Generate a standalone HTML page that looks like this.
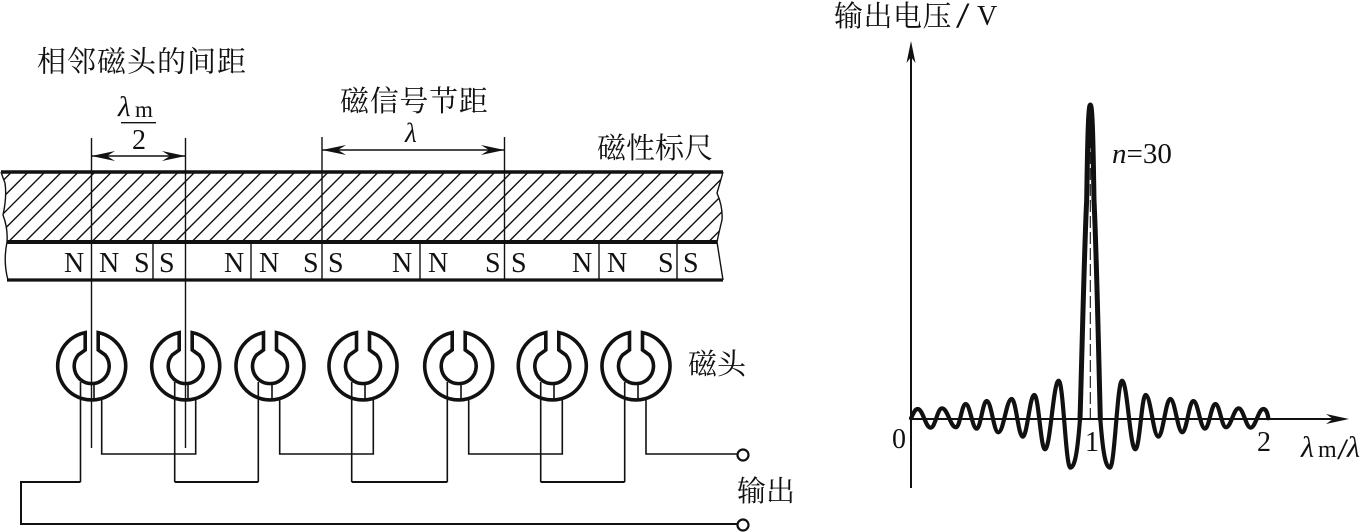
<!DOCTYPE html>
<html>
<head>
<meta charset="utf-8">
<style>
html,body{margin:0;padding:0;background:#fff;width:1363px;height:532px;overflow:hidden}
svg{display:block}
.cjk{font-family:"Liberation Serif","Noto Serif CJK SC",serif;font-size:29px;fill:#111}
.l{font-family:"Liberation Serif",serif;font-size:28px;fill:#111}
.i{font-style:italic}
.w{fill:none;stroke:#111;stroke-width:1.6}
.t{fill:none;stroke:#111;stroke-width:1.4}
</style>
</head>
<body>
<svg width="1363" height="532" viewBox="0 0 1363 532" xmlns="http://www.w3.org/2000/svg">
<defs>
<clipPath id="c"><path d="M1,172L723,172Q720,183 717,193Q723,207 722,220Q719,232 717,242L7,242Q8,228 3,215Q7,197 5,183Q3,178 1,172Z"/></clipPath>
<path id="head" d="M-6.5,-33.4A34,34 0 1 0 6.5,-33.4L6.5,-16L13.5,-11A17.5,17.5 0 1 1 -13.5,-11L-6.5,-16Z" fill="none" stroke="#111" stroke-width="3.6"/>
</defs>

<!-- ruler -->
<path clip-path="url(#c)" class="t" d="M11.6,172l-70,70m86.67,-70l-70,70m86.67,-70l-70,70m86.67,-70l-70,70m86.67,-70l-70,70m86.67,-70l-70,70m86.67,-70l-70,70m86.67,-70l-70,70m86.67,-70l-70,70m86.67,-70l-70,70m86.67,-70l-70,70m86.67,-70l-70,70m86.67,-70l-70,70m86.67,-70l-70,70m86.67,-70l-70,70m86.67,-70l-70,70m86.67,-70l-70,70m86.67,-70l-70,70m86.67,-70l-70,70m86.67,-70l-70,70m86.67,-70l-70,70m86.67,-70l-70,70m86.67,-70l-70,70m86.67,-70l-70,70m86.67,-70l-70,70m86.67,-70l-70,70m86.67,-70l-70,70m86.67,-70l-70,70m86.67,-70l-70,70m86.67,-70l-70,70m86.67,-70l-70,70m86.67,-70l-70,70m86.67,-70l-70,70m86.67,-70l-70,70m86.67,-70l-70,70m86.67,-70l-70,70m86.67,-70l-70,70m86.67,-70l-70,70m86.67,-70l-70,70m86.67,-70l-70,70m86.67,-70l-70,70m86.67,-70l-70,70m86.67,-70l-70,70m86.67,-70l-70,70m86.67,-70l-70,70m86.67,-70l-70,70m86.67,-70l-70,70"/>
<path d="M1,172Q3,178 5,183Q7,197 3,215Q8,228 7,242Q3,262 8,280" class="t"/>
<path d="M723,172Q720,183 717,193Q723,207 722,220Q719,232 717,242L723,280" class="t"/>
<path d="M1,172H723" stroke="#111" stroke-width="3.4" fill="none"/>
<path d="M7,242H717" stroke="#111" stroke-width="4" fill="none"/>
<path d="M7,280H723" stroke="#111" stroke-width="3.2" fill="none"/>

<!-- verticals -->
<path d="M91.5,138V448M185.5,138V448M322,137V280M504.5,137V280" class="t"/>
<path d="M153,242V280M251,242V280M420,242V280M599,242V280M677,242V280" class="t"/>

<!-- poles -->
<g class="l">
<text x="64" y="272">N</text><text x="99" y="272">N</text><text x="134" y="272">S</text><text x="159" y="272">S</text>
<text x="224" y="272">N</text><text x="259" y="272">N</text><text x="303" y="272">S</text><text x="328" y="272">S</text>
<text x="392" y="272">N</text><text x="428" y="272">N</text><text x="485" y="272">S</text><text x="511" y="272">S</text>
<text x="572" y="272">N</text><text x="607" y="272">N</text><text x="658" y="272">S</text><text x="683" y="272">S</text>
</g>

<!-- dimensions -->
<path d="M91,156H185M322,150H504" class="t"/>
<path d="M91.5,156L115,151L107,156L115,161ZM185.5,156L162,151L170,156L162,161Z" fill="#111"/>
<path d="M322,150L346,145L338,150L346,155ZM504.5,150L481,145L489,150L481,155Z" fill="#111"/>
<path d="M121,122.7H156" class="t"/>

<!-- labels -->
<text class="cjk" x="37" y="71.5" style="letter-spacing:1px">相邻磁头的间距</text>
<text class="cjk" x="340" y="111" style="letter-spacing:.7px">磁信号节距</text>
<text class="cjk" x="597" y="158">磁性标尺</text>
<text class="cjk" x="688" y="374">磁头</text>
<text class="cjk" x="737" y="501">输出</text>
<text class="cjk" x="834" y="26" style="letter-spacing:.5px">输出电压</text>
<text class="l" transform="translate(956,27) scale(1.35,1)" style="font-size:36px">/</text>
<text class="l" x="977" y="25">V</text>

<text class="l i" x="118" y="116" style="font-size:29px">λ</text>
<text class="l" x="135" y="117" style="font-size:23px">m</text>
<text class="l" x="132" y="149">2</text>
<text class="l i" x="405" y="142" style="font-size:27px">λ</text>

<!-- heads -->
<use href="#head" x="91.7" y="366"/>
<use href="#head" x="185.7" y="366"/>
<use href="#head" x="270" y="366"/>
<use href="#head" x="363" y="366"/>
<use href="#head" x="458.7" y="366"/>
<use href="#head" x="552.3" y="366"/>
<use href="#head" x="636" y="366"/>

<!-- wires -->
<path class="w" d="M94,382V399M188,382V399M272,382V399M365,382V399M461,382V399M554,382V399M638,382V399"/>
<path class="w" d="M101.7,399V454H195.7V399"/>
<path class="w" d="M279.7,399V454H373.3V399"/>
<path class="w" d="M468.7,399V454H562.3V399"/>
<path class="w" d="M646,399V454H737"/>
<path class="w" d="M80.5,382V482"/>
<path class="w" d="M174.7,382V482M258.3,382V482M351.7,382V482M447.3,382V482M540.7,382V482M624.7,382V482"/>
<path d="M80.5,482H21V524H737" fill="none" stroke="#111" stroke-width="2"/>
<path d="M174.7,482H258.3M351.7,482H447.3M540.7,482H624.7" fill="none" stroke="#111" stroke-width="2"/>
<circle cx="743" cy="455" r="5.5" fill="#fff" stroke="#111" stroke-width="2.2"/>
<circle cx="743" cy="525" r="5.5" fill="#fff" stroke="#111" stroke-width="2.2"/>

<!-- chart axes -->
<path d="M911,55V488" fill="none" stroke="#111" stroke-width="2"/>
<path d="M911,41L915.5,63L911,57L906.5,63Z" fill="#111"/>
<path d="M911,419H1335" fill="none" stroke="#111" stroke-width="2"/>
<path d="M1349,419L1326,414L1333,419L1326,424Z" fill="#111"/>
<path d="M1090.3,120V419" fill="none" stroke="#111" stroke-width="1.1" stroke-dasharray="12 4"/>

<g transform="translate(880,340) scale(0.33333)">
<path fill="none" stroke="#111" stroke-width="12.5" stroke-linecap="round" stroke-linejoin="round" d="M93,235 C100,220 105,207 113,207 C129,207 136,263 152,263 C166,263 172,205 186,205 C203,205 211,262 228,262 C240,262 245,192 257,192 C270,192 277,266 290,266 C302,266 308,183 320,183 C334,183 341,277 355,277 C371,277 379,177 395,177 C408,177 415,290 428,290 C442,290 449,165 463,165 C476,165 482,328 495,328 C511,328 520,122 536,122 C550,122 557,383 571,383 C585,383 593,330 600,237 C606,50 612,-250 620,-420 C622,-530 624,-705 631,-705 C638,-705 640,-530 642,-420 C650,-250 656,50 661,237 C668,330 676,383 690,383 C704,383 712,122 726,122 C742,122 750,328 766,328 C779,328 785,165 797,165 C812,165 820,290 835,290 C849,290 857,177 871,177 C885,177 893,277 907,277 C920,277 927,183 940,183 C954,183 961,266 975,266 C987,266 994,192 1006,192 C1019,192 1025,262 1038,262 C1053,262 1061,205 1076,205 C1090,205 1098,263 1112,263 C1127,263 1135,207 1150,207 C1158,207 1163,220 1165,235"/>
<path fill="none" stroke="#111" stroke-width="15" stroke-linecap="round" d="M600,237 C606,50 612,-250 620,-420 C622,-530 624,-705 631,-705 C638,-705 640,-530 642,-420 C650,-250 656,50 661,237"/>
</g>

<!-- chart labels -->
<text class="l" x="1112" y="163" style="font-size:29px"><tspan class="i">n</tspan>=30</text>
<text class="l" x="892" y="448">0</text>
<text class="l" x="1085" y="451">1</text>
<text class="l" x="1257" y="451">2</text>
<text class="l i" x="1301" y="457" style="font-size:30px">λ</text>
<text class="l" x="1318" y="457" style="font-size:24px">m</text>
<text class="l" transform="translate(1337,459) scale(1.35,1)" style="font-size:30px">/</text>
<text class="l i" x="1347" y="457" style="font-size:30px">λ</text>
</svg>
</body>
</html>
